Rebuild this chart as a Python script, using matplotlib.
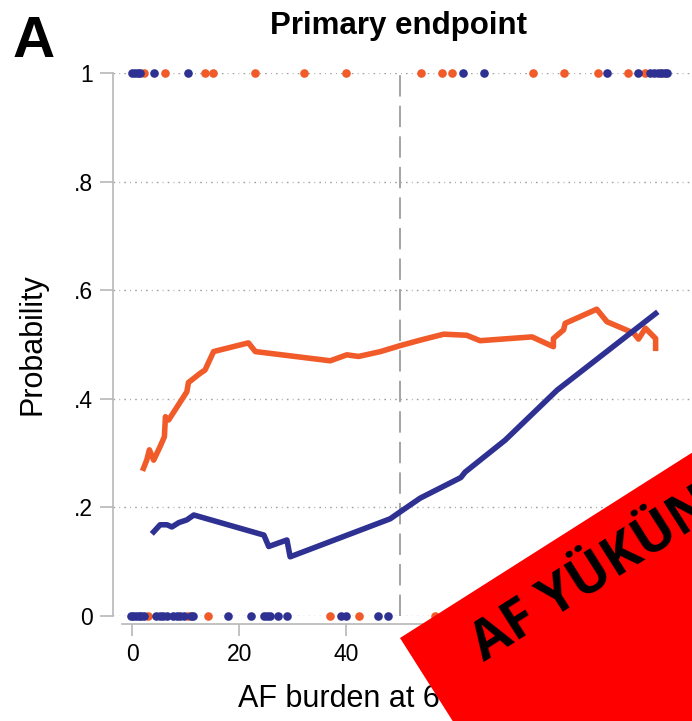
import matplotlib
matplotlib.use("Agg")
import matplotlib.pyplot as plt
from matplotlib.patches import Rectangle

plt.rcParams["font.family"] = ["Liberation Sans", "DejaVu Sans"]

# ==================================================
# DATA
# ==================================================

red_x = [2.1, 2.7, 3.2, 4.0, 5.2, 6.0, 6.2, 6.8, 10.2, 10.5, 12.7, 13.6,
         15.2, 21.7, 23.0, 37.0, 40.1, 42.3, 46.4, 50.1, 53.8, 58.2, 62.5,
         65.0, 74.7, 78.7, 78.7, 80.6, 80.9, 86.8, 88.7, 93.7, 94.6, 95.9,
         97.8, 97.8]
red_y = [0.272, 0.287, 0.306, 0.287, 0.312, 0.330, 0.367, 0.361, 0.413,
         0.430, 0.447, 0.453, 0.487, 0.503, 0.487, 0.470, 0.481, 0.478,
         0.487, 0.498, 0.508, 0.519, 0.517, 0.507, 0.514, 0.496, 0.511,
         0.527, 0.539, 0.565, 0.542, 0.521, 0.510, 0.530, 0.511, 0.493]

blue_x = [4.0, 5.2, 6.5, 7.4, 8.7, 10.2, 11.5, 24.6, 25.5, 28.9, 29.5,
          48.2, 50.1, 53.8, 61.4, 62.2, 69.7, 79.4, 97.8]
blue_y = [0.155, 0.168, 0.168, 0.164, 0.172, 0.177, 0.186, 0.149, 0.128,
          0.140, 0.109, 0.179, 0.192, 0.217, 0.255, 0.265, 0.324, 0.416,
          0.557]

# observed events (rug of points at 1) and non-events (at 0)
top_red_x = [2.1, 6.2, 13.6, 15.1, 23.0, 32.0, 40.0, 54.0, 57.9, 59.8,
             74.8, 80.6, 87.1, 92.6, 95.9, 99.0]
top_blue_x = [0.0, 0.5, 1.0, 1.5, 4.0, 10.5, 61.8, 65.8, 88.7, 94.6,
              96.8, 97.5, 98.2, 98.8, 99.5, 99.9]

bottom_red_x = [3.0, 10.4, 14.1, 37.0, 42.4, 56.5]
bottom_blue_x = [-0.3, 0.2, 0.7, 1.2, 1.7, 2.2, 4.5, 5.1, 5.8, 6.4, 7.6,
                 8.3, 9.0, 9.7, 11.0, 11.4, 17.9, 22.1, 24.6, 25.2, 25.7,
                 27.3, 28.9, 39.0, 40.0, 46.0, 47.8]

x_ticks = [0, 20, 40, 60, 80, 100]
y_ticks = [0, 0.2, 0.4, 0.6, 0.8, 1.0]
y_tick_labels = ["0", ".2", ".4", ".6", ".8", "1"]

RED = "#F15A29"
BLUE = "#2E3192"
AXIS_GRAY = "#B8B8B8"

# ==================================================
# FIGURE
# ==================================================

W, H = 692, 721
fig = plt.figure(figsize=(W / 100, H / 100), dpi=100)

ax = fig.add_axes([113 / W, (H - 616) / H, (W - 113) / W, (616 - 73) / H])

ax.set_xlim(-3.6, 104.6)
ax.set_ylim(0, 1)

for yv in y_ticks:
    ax.axhline(yv, color="#A0A0A0", linewidth=1.0,
               dashes=(1.2, 3.0, 0.6, 3.0), zorder=1)

ax.axvline(50, color="#8C8C8C", linewidth=1.1, dashes=(14, 6), zorder=1)

ax.plot(red_x, red_y, color=RED, linewidth=4.0,
        solid_joinstyle="round", zorder=3)
ax.plot(blue_x, blue_y, color=BLUE, linewidth=4.0,
        solid_joinstyle="round", zorder=3)

ax.plot(top_red_x, [1] * len(top_red_x), "o", color=RED,
        markersize=6.2, markeredgewidth=0, clip_on=False, zorder=4)
ax.plot(bottom_red_x, [0] * len(bottom_red_x), "o", color=RED,
        markersize=6.2, markeredgewidth=0, clip_on=False, zorder=4)
ax.plot(top_blue_x, [1] * len(top_blue_x), "o", color=BLUE,
        markersize=6.2, markeredgewidth=0, clip_on=False, zorder=5)
ax.plot(bottom_blue_x, [0] * len(bottom_blue_x), "o", color=BLUE,
        markersize=6.2, markeredgewidth=0, clip_on=False, zorder=5)

# ==================================================
# AXES STYLE
# ==================================================

for side in ["top", "right"]:
    ax.spines[side].set_visible(False)

ax.spines["left"].set_color(AXIS_GRAY)
ax.spines["left"].set_linewidth(1.2)
ax.spines["left"].set_bounds(0, 1)

ax.spines["bottom"].set_color(AXIS_GRAY)
ax.spines["bottom"].set_linewidth(1.2)
ax.spines["bottom"].set_position(("outward", 6))
ax.spines["bottom"].set_bounds(-2, 104.6)

ax.set_xticks(x_ticks)
ax.set_xticklabels([str(t) for t in x_ticks])
ax.set_yticks(y_ticks)
ax.set_yticklabels(y_tick_labels)

ax.tick_params(axis="x", length=8.5, width=1.2, color=AXIS_GRAY,
               labelsize=16.5, pad=5)
ax.tick_params(axis="y", length=9.5, width=1.2, color=AXIS_GRAY,
               labelsize=16.5, pad=5)

ax.set_ylabel("Probability", fontsize=22, labelpad=19)
ax.set_xlabel("AF burden at 6 months (%)", fontsize=22, ha="left")
ax.xaxis.set_label_coords((238 - 113) / (W - 113), -0.125)

fig.text(399 / W, 1 - 34 / H, "Primary endpoint", fontsize=22.5,
         fontweight="bold", ha="center", va="baseline")
fig.text(13 / W, 1 - 57 / H, "A", fontsize=42, fontweight="bold",
         ha="left", va="baseline")

# ==================================================
# RED BANNER OVERLAY
# ==================================================

banner = Rectangle((400 / 100, (H - 638) / 100), 7.0, -3.0, angle=32.4,
                   transform=fig.dpi_scale_trans, facecolor="#FF0000",
                   edgecolor="none", zorder=10)
fig.patches.append(banner)

fig.text(484 / W, (H - 662) / H, "AF YÜKÜN", fontsize=39,
         fontweight="bold", family=["Open Sans", "DejaVu Sans"],
         rotation=32.4, rotation_mode="anchor", ha="left", va="baseline",
         color="black", zorder=11)

fig.savefig("out.png", dpi=100)
